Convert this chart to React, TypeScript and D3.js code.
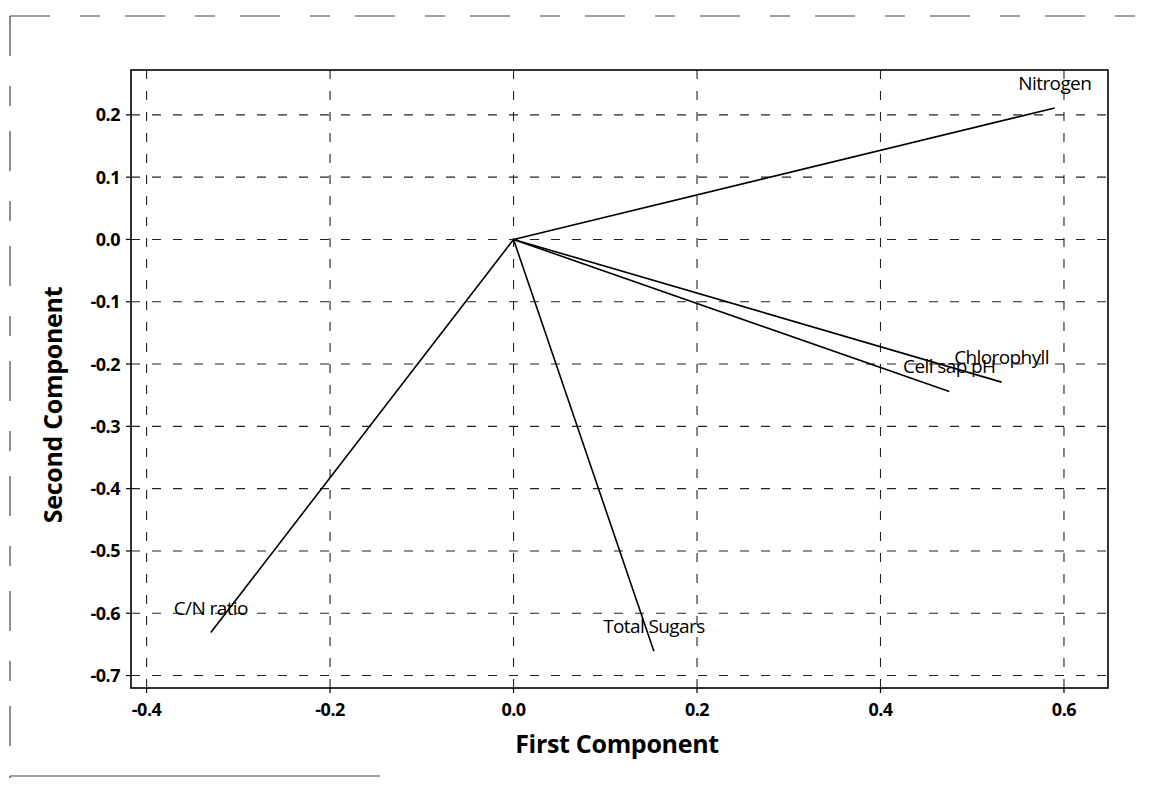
import React from "react";
import * as d3 from "d3";

// Loading plot: first vs second principal component
const variables = ["Nitrogen", "Chlorophyll", "Cell sap pH", "Total Sugars", "C/N ratio"];
const firstComponent = [0.59, 0.532, 0.475, 0.153, -0.33];
const secondComponent = [0.211, -0.229, -0.244, -0.661, -0.631];

const xTicks = [-0.4, -0.2, 0.0, 0.2, 0.4, 0.6];
const yTicks = [0.2, 0.1, 0.0, -0.1, -0.2, -0.3, -0.4, -0.5, -0.6, -0.7];

const W = 1149;
const H = 788;
const plot = { left: 131, right: 1108, top: 70, bottom: 688 };

export default function App() {
  const x = d3.scaleLinear().domain([-0.417, 0.648]).range([plot.left, plot.right]);
  const y = d3.scaleLinear().domain([-0.72, 0.272]).range([plot.bottom, plot.top]);
  // plain hyphen for negatives
  const fmt = (v: number) => d3.format(".1f")(v).replace("\u2212", "-");
  const font = "'Open Sans', 'Noto Sans', sans-serif";

  return (
    <svg
      width={W}
      height={H}
      style={{ position: "absolute", left: 0, top: 0, background: "#fff" }}
    >
      {/* outer figure border */}
      <g stroke="#444" strokeWidth={1.2} fill="none" strokeDasharray="40 30 20 25">
        <line x1={10} y1={16} x2={1140} y2={16} />
        <line x1={10} y1={16} x2={10} y2={778} />
        <line x1={10} y1={776} x2={380} y2={776} strokeDasharray="none" />
      </g>

      {/* gridlines */}
      <g stroke="#222" strokeWidth={1.1} strokeDasharray="9 12">
        {xTicks.map((t) => (
          <line key={"gx" + t} x1={x(t)} x2={x(t)} y1={plot.top} y2={plot.bottom} />
        ))}
        {yTicks.map((t) => (
          <line key={"gy" + t} x1={plot.left} x2={plot.right} y1={y(t)} y2={y(t)} />
        ))}
      </g>

      {/* frame */}
      <rect
        x={plot.left}
        y={plot.top}
        width={plot.right - plot.left}
        height={plot.bottom - plot.top}
        fill="none"
        stroke="#000"
        strokeWidth={1.6}
      />

      {/* axis ticks and labels */}
      <g fontFamily={font} fontWeight="bold" fontSize={18} fill="#000" letterSpacing={-0.5}>
        {xTicks.map((t) => (
          <g key={"tx" + t}>
            <line x1={x(t)} x2={x(t)} y1={plot.bottom} y2={plot.bottom + 5} stroke="#000" strokeWidth={1.2} />
            <text x={x(t)} y={plot.bottom + 28} textAnchor="middle">
              {fmt(t)}
            </text>
          </g>
        ))}
        {yTicks.map((t) => (
          <g key={"ty" + t}>
            <line x1={plot.left - 5} x2={plot.left} y1={y(t)} y2={y(t)} stroke="#000" strokeWidth={1.2} />
            <text x={plot.left - 11} y={y(t)} dy="0.36em" textAnchor="end">
              {fmt(t)}
            </text>
          </g>
        ))}
      </g>

      {/* axis titles */}
      <text
        x={617}
        y={753}
        textAnchor="middle"
        fontFamily={font}
        fontWeight="bold"
        fontSize={25}
        letterSpacing={-0.3}
        fill="#000"
      >
        First Component
      </text>
      <text
        transform={`translate(62, 405) rotate(-90)`}
        textAnchor="middle"
        fontFamily={font}
        fontWeight="bold"
        fontSize={25}
        letterSpacing={-0.3}
        fill="#000"
      >
        Second Component
      </text>

      {/* loading vectors */}
      <g stroke="#000" strokeWidth={1.6}>
        {variables.map((v, i) => (
          <line
            key={"v" + v}
            x1={x(0)}
            y1={y(0)}
            x2={x(firstComponent[i])}
            y2={y(secondComponent[i])}
          />
        ))}
      </g>

      {/* variable labels */}
      <g fontFamily={font} fontSize={19} fill="#000" letterSpacing={-0.6}>
        {variables.map((v, i) => (
          <text
            key={"l" + v}
            x={x(firstComponent[i])}
            y={y(secondComponent[i]) - 18}
            textAnchor="middle"
          >
            {v}
          </text>
        ))}
      </g>
    </svg>
  );
}
